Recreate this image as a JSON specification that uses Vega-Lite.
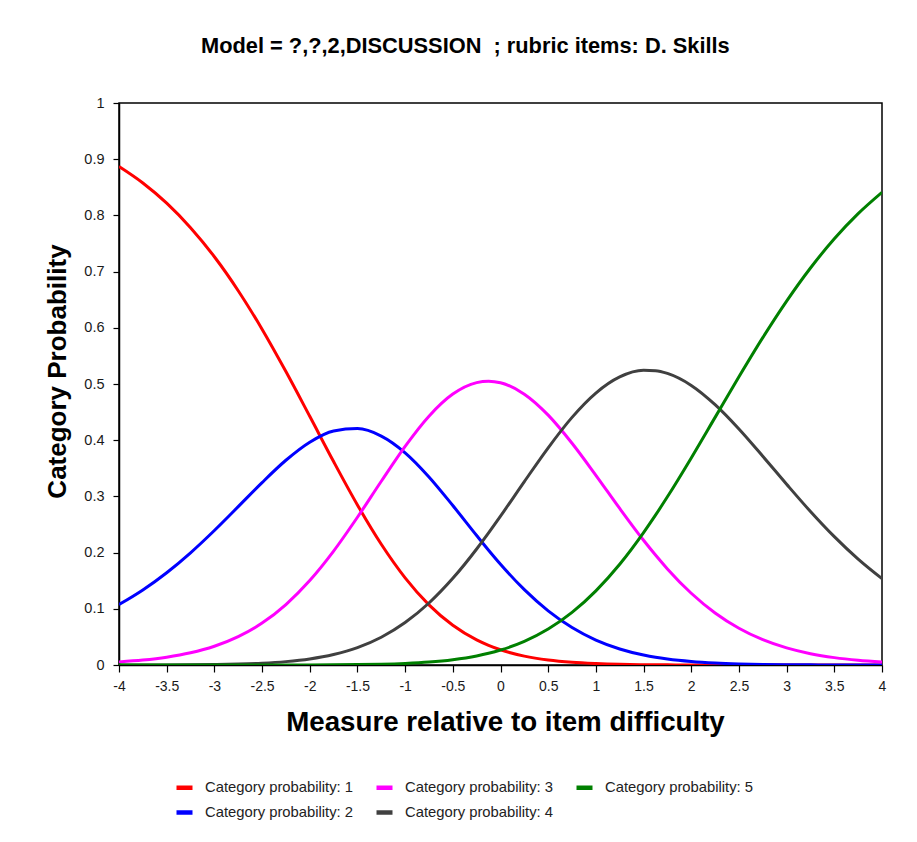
{
  "$schema": "https://vega.github.io/schema/vega-lite/v6.json",
  "width": 763,
  "height": 562,
  "autosize": {"type": "none"},
  "padding": {"left": 119, "top": 103, "right": 35, "bottom": 177},
  "background": "white",
  "title": {
    "text": "Model = ?,?,2,DISCUSSION\u00a0 ; rubric items: D. Skills",
    "fontSize": 21.8,
    "fontWeight": "bold",
    "font": "Liberation Sans",
    "color": "black",
    "anchor": "middle",
    "frame": "bounds",
    "offset": 37
  },
  "config": {
    "font": "Liberation Sans",
    "view": {"stroke": "black", "strokeWidth": 1.5},
    "axis": {"grid": false, "domainColor": "black", "domainWidth": 1.5, "tickColor": "black", "tickWidth": 1.2, "labelColor": "#1a1a1a", "labelFont": "Liberation Sans", "titleFont": "Liberation Sans", "titleColor": "black", "titleFontWeight": "bold"}
  },
  "data": {
    "values": [
      {"x": -4, "p1": 0.8869, "p2": 0.1075, "p3": 0.0055, "p4": 0.0001, "p5": 0},
      {"x": -3.75, "p1": 0.8576, "p2": 0.1335, "p3": 0.0088, "p4": 0.0001, "p5": 0},
      {"x": -3.5, "p1": 0.8217, "p2": 0.1642, "p3": 0.0139, "p4": 0.0002, "p5": 0},
      {"x": -3.25, "p1": 0.7781, "p2": 0.1997, "p3": 0.0217, "p4": 0.0004, "p5": 0},
      {"x": -3, "p1": 0.7264, "p2": 0.2394, "p3": 0.0334, "p4": 0.0009, "p5": 0},
      {"x": -2.75, "p1": 0.666, "p2": 0.2818, "p3": 0.0505, "p4": 0.0017, "p5": 0},
      {"x": -2.5, "p1": 0.5975, "p2": 0.3246, "p3": 0.0746, "p4": 0.0032, "p5": 0},
      {"x": -2.25, "p1": 0.5221, "p2": 0.3643, "p3": 0.1076, "p4": 0.006, "p5": 0.0001},
      {"x": -2, "p1": 0.4425, "p2": 0.3964, "p3": 0.1503, "p4": 0.0107, "p5": 0.0001},
      {"x": -1.75, "p1": 0.362, "p2": 0.4164, "p3": 0.2027, "p4": 0.0186, "p5": 0.0003},
      {"x": -1.5, "p1": 0.2848, "p2": 0.4207, "p3": 0.2629, "p4": 0.0309, "p5": 0.0007},
      {"x": -1.25, "p1": 0.2148, "p2": 0.4074, "p3": 0.327, "p4": 0.0494, "p5": 0.0014},
      {"x": -1, "p1": 0.1551, "p2": 0.3776, "p3": 0.3891, "p4": 0.0755, "p5": 0.0028},
      {"x": -0.75, "p1": 0.107, "p2": 0.3347, "p3": 0.4428, "p4": 0.1103, "p5": 0.0052},
      {"x": -0.5, "p1": 0.0707, "p2": 0.2837, "p3": 0.4821, "p4": 0.1542, "p5": 0.0094},
      {"x": -0.25, "p1": 0.0447, "p2": 0.2304, "p3": 0.5025, "p4": 0.2064, "p5": 0.0161},
      {"x": -0.125, "p1": 0.035, "p2": 0.2043, "p3": 0.505, "p4": 0.235, "p5": 0.0208},
      {"x": 0, "p1": 0.0271, "p2": 0.1793, "p3": 0.5022, "p4": 0.2648, "p5": 0.0266},
      {"x": 0.25, "p1": 0.0158, "p2": 0.134, "p3": 0.4819, "p4": 0.3263, "p5": 0.042},
      {"x": 0.5, "p1": 0.0088, "p2": 0.0963, "p3": 0.4446, "p4": 0.3865, "p5": 0.0639},
      {"x": 0.75, "p1": 0.0047, "p2": 0.0666, "p3": 0.3946, "p4": 0.4406, "p5": 0.0935},
      {"x": 1, "p1": 0.0025, "p2": 0.0443, "p3": 0.3376, "p4": 0.4838, "p5": 0.1319},
      {"x": 1.25, "p1": 0.0012, "p2": 0.0285, "p3": 0.2785, "p4": 0.5125, "p5": 0.1793},
      {"x": 1.5, "p1": 0.0006, "p2": 0.0177, "p3": 0.2219, "p4": 0.5243, "p5": 0.2356},
      {"x": 1.625, "p1": 0.0004, "p2": 0.0137, "p3": 0.1956, "p4": 0.5237, "p5": 0.2666},
      {"x": 1.75, "p1": 0.0003, "p2": 0.0106, "p3": 0.171, "p4": 0.5188, "p5": 0.2993},
      {"x": 2, "p1": 0.0001, "p2": 0.0062, "p3": 0.1277, "p4": 0.4975, "p5": 0.3685},
      {"x": 2.25, "p1": 0.0001, "p2": 0.0035, "p3": 0.0926, "p4": 0.4632, "p5": 0.4406},
      {"x": 2.5, "p1": 0, "p2": 0.0019, "p3": 0.0654, "p4": 0.4199, "p5": 0.5128},
      {"x": 2.75, "p1": 0, "p2": 0.001, "p3": 0.045, "p4": 0.3714, "p5": 0.5825},
      {"x": 3, "p1": 0, "p2": 0.0005, "p3": 0.0304, "p4": 0.3216, "p5": 0.6475},
      {"x": 3.25, "p1": 0, "p2": 0.0003, "p3": 0.0201, "p4": 0.2732, "p5": 0.7064},
      {"x": 3.5, "p1": 0, "p2": 0.0001, "p3": 0.0131, "p4": 0.2284, "p5": 0.7584},
      {"x": 3.75, "p1": 0, "p2": 0.0001, "p3": 0.0084, "p4": 0.1884, "p5": 0.8031},
      {"x": 4, "p1": 0, "p2": 0, "p3": 0.0053, "p4": 0.1536, "p5": 0.841}
    ]
  },
  "transform": [
    {"fold": ["p1", "p2", "p3", "p4", "p5"], "as": ["cat", "prob"]}
  ],
  "mark": {"type": "line", "strokeWidth": 3, "interpolate": "monotone", "clip": true},
  "encoding": {
    "x": {
      "field": "x",
      "type": "quantitative",
      "scale": {"domain": [-4, 4], "nice": false, "zero": false},
      "axis": {
        "title": "Measure relative to item difficulty",
        "titleFontSize": 27.7,
        "titlePadding": 15,
        "titleX": 386,
        "values": [-4, -3.5, -3, -2.5, -2, -1.5, -1, -0.5, 0, 0.5, 1, 1.5, 2, 2.5, 3, 3.5, 4],
        "labelExpr": "'' + datum.value",
        "labelFontSize": 14,
        "labelPadding": 7,
        "tickSize": 7,
        "labelFlush": false,
        "labelOverlap": false
      }
    },
    "y": {
      "field": "prob",
      "type": "quantitative",
      "scale": {"domain": [0, 1], "nice": false},
      "axis": {
        "title": "Category Probability",
        "titleFontSize": 26,
        "titlePadding": 13,
        "titleY": 268,
        "values": [0, 0.1, 0.2, 0.3, 0.4, 0.5, 0.6, 0.7, 0.8, 0.9, 1],
        "labelExpr": "'' + datum.value",
        "labelFontSize": 14.5,
        "labelPadding": 9,
        "tickSize": 6,
        "labelFlush": false,
        "labelOverlap": false
      }
    },
    "color": {
      "field": "cat",
      "type": "nominal",
      "scale": {"domain": ["p1", "p3", "p5", "p2", "p4"], "range": ["#FF0000", "#FF00FF", "#008000", "#0000FF", "#404040"]},
      "legend": {
        "title": null,
        "orient": "none",
        "legendX": 55,
        "legendY": 674,
        "direction": "horizontal",
        "columns": 3,
        "symbolType": "stroke",
        "symbolSize": 256,
        "symbolStrokeWidth": 4.5,
        "labelFontSize": 14.8,
        "labelColor": "#222222",
        "labelOffset": 10,
        "columnPadding": 13,
        "rowPadding": 5,
        "labelExpr": "'Category probability: ' + slice(datum.value, 1)"
      }
    }
  }
}
